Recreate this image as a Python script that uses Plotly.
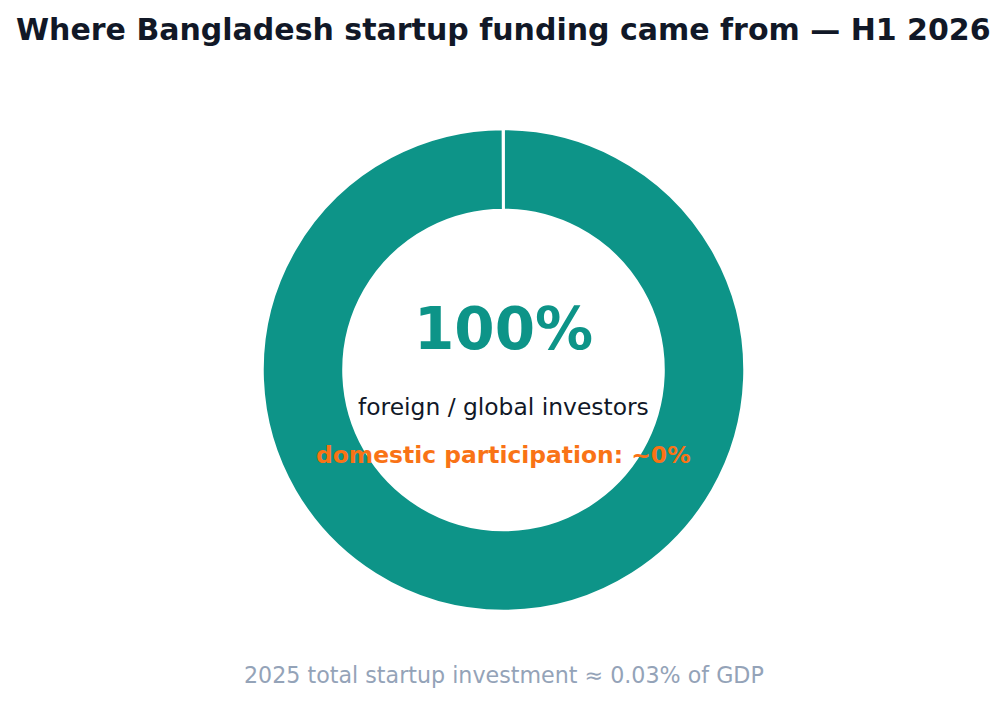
import plotly.graph_objects as go

labels = ["foreign / global investors", "domestic investors"]
values = [99.97, 0.03]
colors = ["#0d9488", "#0d9488"]

title_text = "Where Bangladesh startup funding came from — H1 2026"
center_big = "100%"
center_sub = "foreign / global investors"
center_note = "domestic participation: ~0%"
footer_text = "2025 total startup investment ≈ 0.03% of GDP"

fig = go.Figure(go.Pie(
    labels=labels,
    values=values,
    hole=0.664,
    sort=False,
    direction="clockwise",
    rotation=0,
    textinfo="none",
    hoverinfo="label+percent",
    marker=dict(colors=colors, line=dict(color="#ffffff", width=2.5)),
    showlegend=False,
))

W, H = 1007, 701
OFF = 8  # page body margin offset
top, bottom = 129 - OFF, 90 + OFF
ph = H - top - bottom

def py(y):
    return (H - bottom - (y - OFF)) / ph

fig.update_layout(
    width=W, height=H,
    margin=dict(l=32, r=48, t=top, b=bottom),
    paper_bgcolor="#ffffff",
    plot_bgcolor="#ffffff",
    font=dict(family="DejaVu Sans"),
    annotations=[
        dict(text=f"<b>{title_text}</b>", x=0.5, y=py(29.5), xref="paper", yref="paper",
             showarrow=False, xanchor="center", yanchor="middle",
             font=dict(size=30, color="#111827", family="DejaVu Sans")),
        dict(text=f"<b>{center_big}</b>", x=0.5, y=py(329), xref="paper", yref="paper",
             showarrow=False, xanchor="center", yanchor="middle",
             font=dict(size=58, color="#0d9488", family="DejaVu Sans")),
        dict(text=center_sub, x=0.5, y=py(407), xref="paper", yref="paper",
             showarrow=False, xanchor="center", yanchor="middle",
             font=dict(size=23.4, color="#111827", family="DejaVu Sans")),
        dict(text=f"<b>{center_note}</b>", x=0.5, y=py(455), xref="paper", yref="paper",
             showarrow=False, xanchor="center", yanchor="middle",
             font=dict(size=23.4, color="#f97316", family="DejaVu Sans")),
        dict(text=footer_text, x=0.5, y=py(675), xref="paper", yref="paper",
             showarrow=False, xanchor="center", yanchor="middle",
             font=dict(size=22.2, color="#94a3b8", family="DejaVu Sans")),
    ],
)

fig.write_html("out.html")
